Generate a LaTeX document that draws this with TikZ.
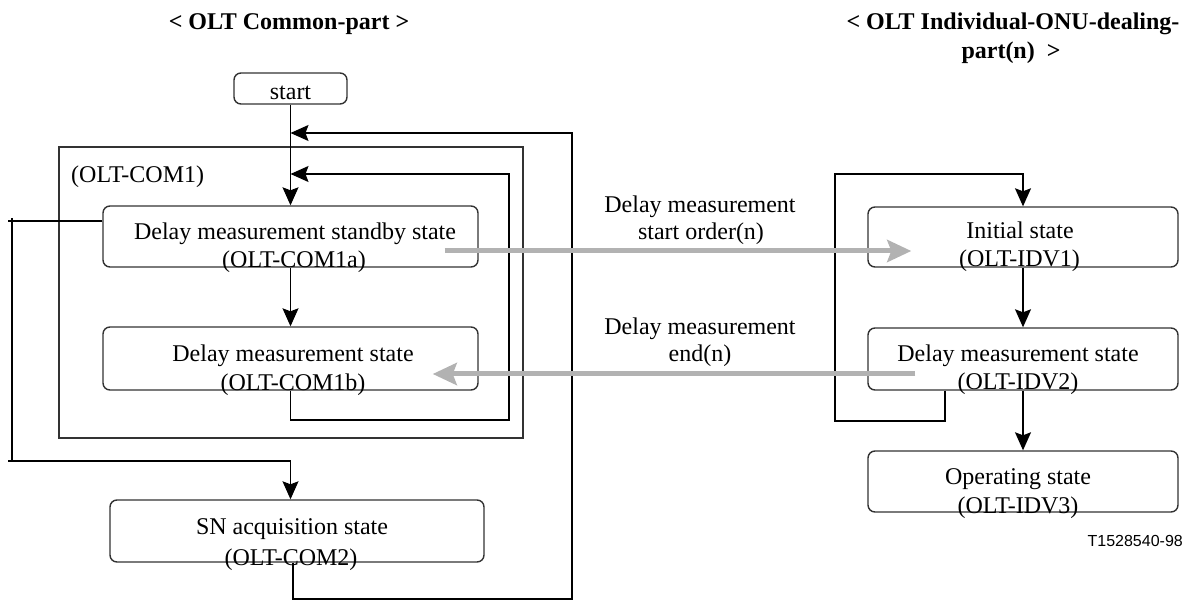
\documentclass[tikz,border=0pt]{standalone}
\usepackage{fontspec}
\setmainfont{Liberation Serif}
\newfontfamily\arialfont{Liberation Sans}
\usetikzlibrary{arrows.meta}
\definecolor{msgray}{RGB}{178,178,178}
\definecolor{boxline}{RGB}{50,50,50}
\begin{document}
\begin{tikzpicture}[x=1pt,y=-1pt,
  every node/.style={font=\fontsize{24}{28}\selectfont},
  box/.style={draw=boxline, line width=1.4pt, rounded corners=7pt, inner sep=0pt},
  txt/.style={inner sep=0pt, anchor=base},
  hdr/.style={inner sep=0pt, anchor=base, font=\fontsize{24}{28}\selectfont\bfseries},
  conn/.style={line width=1.2pt},
  arr/.style={conn, -{Stealth[length=18pt,width=16pt,inset=3pt]}},
  grayarr/.style={line width=5pt, draw=msgray, -{Stealth[length=24pt,width=22pt,inset=4pt]}},
]
\useasboundingbox (0,0) rectangle (1186,601);

% headers
\node[hdr] (h1) at (289,30) {< OLT Common-part >};
\node[hdr] (h2) at (1013,30) {< OLT Individual-ONU-dealing-};
\node[hdr] (h3) at (1011,59) {part(n)~~>};

% common part
\node[box, minimum width=113pt, minimum height=31pt] (start) at (290.5,88.5) {};
\node[txt] (startt) at (290.5,100) {start};

\node[draw=boxline, line width=1.8pt, minimum width=464pt, minimum height=291pt, inner sep=0pt] (com1) at (291,292.5) {};
\node[txt, anchor=base west] (com1t) at (71,183) {(OLT-COM1)};

\node[box, minimum width=375pt, minimum height=61pt] (com1a) at (290.5,236.5) {};
\node[txt] (com1at1) at (295,240) {Delay measurement standby state};
\node[txt] (com1at2) at (294,268) {(OLT-COM1a)};

\node[box, minimum width=375pt, minimum height=63pt] (com1b) at (290.5,358.5) {};
\node[txt] (com1bt1) at (293,362) {Delay measurement state};
\node[txt] (com1bt2) at (293,391) {(OLT-COM1b)};

\node[box, minimum width=374pt, minimum height=62pt] (com2) at (297,531) {};
\node[txt] (com2t1) at (292,534) {SN acquisition state};
\node[txt] (com2t2) at (291,565) {(OLT-COM2)};

% individual part
\node[box, minimum width=310pt, minimum height=60pt] (idv1) at (1023,237) {};
\node[txt] (idv1t1) at (1020,239) {Initial state};
\node[txt] (idv1t2) at (1019.5,267) {(OLT-IDV1)};

\node[box, minimum width=310pt, minimum height=62pt] (idv2) at (1023,359) {};
\node[txt] (idv2t1) at (1018,362) {Delay measurement state};
\node[txt] (idv2t2) at (1018,390) {(OLT-IDV2)};

\node[box, minimum width=310pt, minimum height=61pt] (idv3) at (1023,481.5) {};
\node[txt] (idv3t1) at (1018,484) {Operating state};
\node[txt] (idv3t2) at (1018,513) {(OLT-IDV3)};

% message labels
\node[txt] (m1a) at (700,213) {Delay measurement};
\node[txt] (m1b) at (701,240) {start order(n)};
\node[txt] (m2a) at (700,335) {Delay measurement};
\node[txt] (m2b) at (700,362) {end(n)};

\node[inner sep=0pt, anchor=base east, font=\arialfont\fontsize{16}{19}\selectfont] (fig) at (1183,546) {T1528540-98};

% junction coordinates
\coordinate (j1) at (290.5,133);
\coordinate (j2) at (290.5,174);
\coordinate (yl) at (0,221);
\coordinate (tp) at (1023,174);

% common-part connectors
\draw[arr] (start.south) -- (com1a.north);
\draw[arr] (com1a.south) -- (com1b.north);
\draw[arr] ([xshift=-4pt]com2.south) |- (572,599) |- (j1);
\draw[arr] (com1b.south) |- (509,420) |- (j2);
\draw[conn] (com1a.west |- yl) -- (8,221);
\draw[conn] (12,218) -- (12,461);
\draw[arr] (8,461) -| (j1 |- com2.north);

% individual-part connectors
\draw[arr] (idv1.south) -- (idv2.north);
\draw[arr] (idv2.south) -- (idv3.north);
\draw[arr] ([xshift=-78pt]idv2.south) |- (835,421) |- (tp) -- (idv1.north);

% messages
\draw[grayarr] ([xshift=-34pt,yshift=-14.5pt]com1a.east) -- ([xshift=44pt,yshift=-14pt]idv1.west);
\draw[grayarr] ([xshift=48pt,yshift=-15pt]idv2.west) -- ([xshift=-46pt,yshift=-15.5pt]com1b.east);
\end{tikzpicture}
\end{document}
